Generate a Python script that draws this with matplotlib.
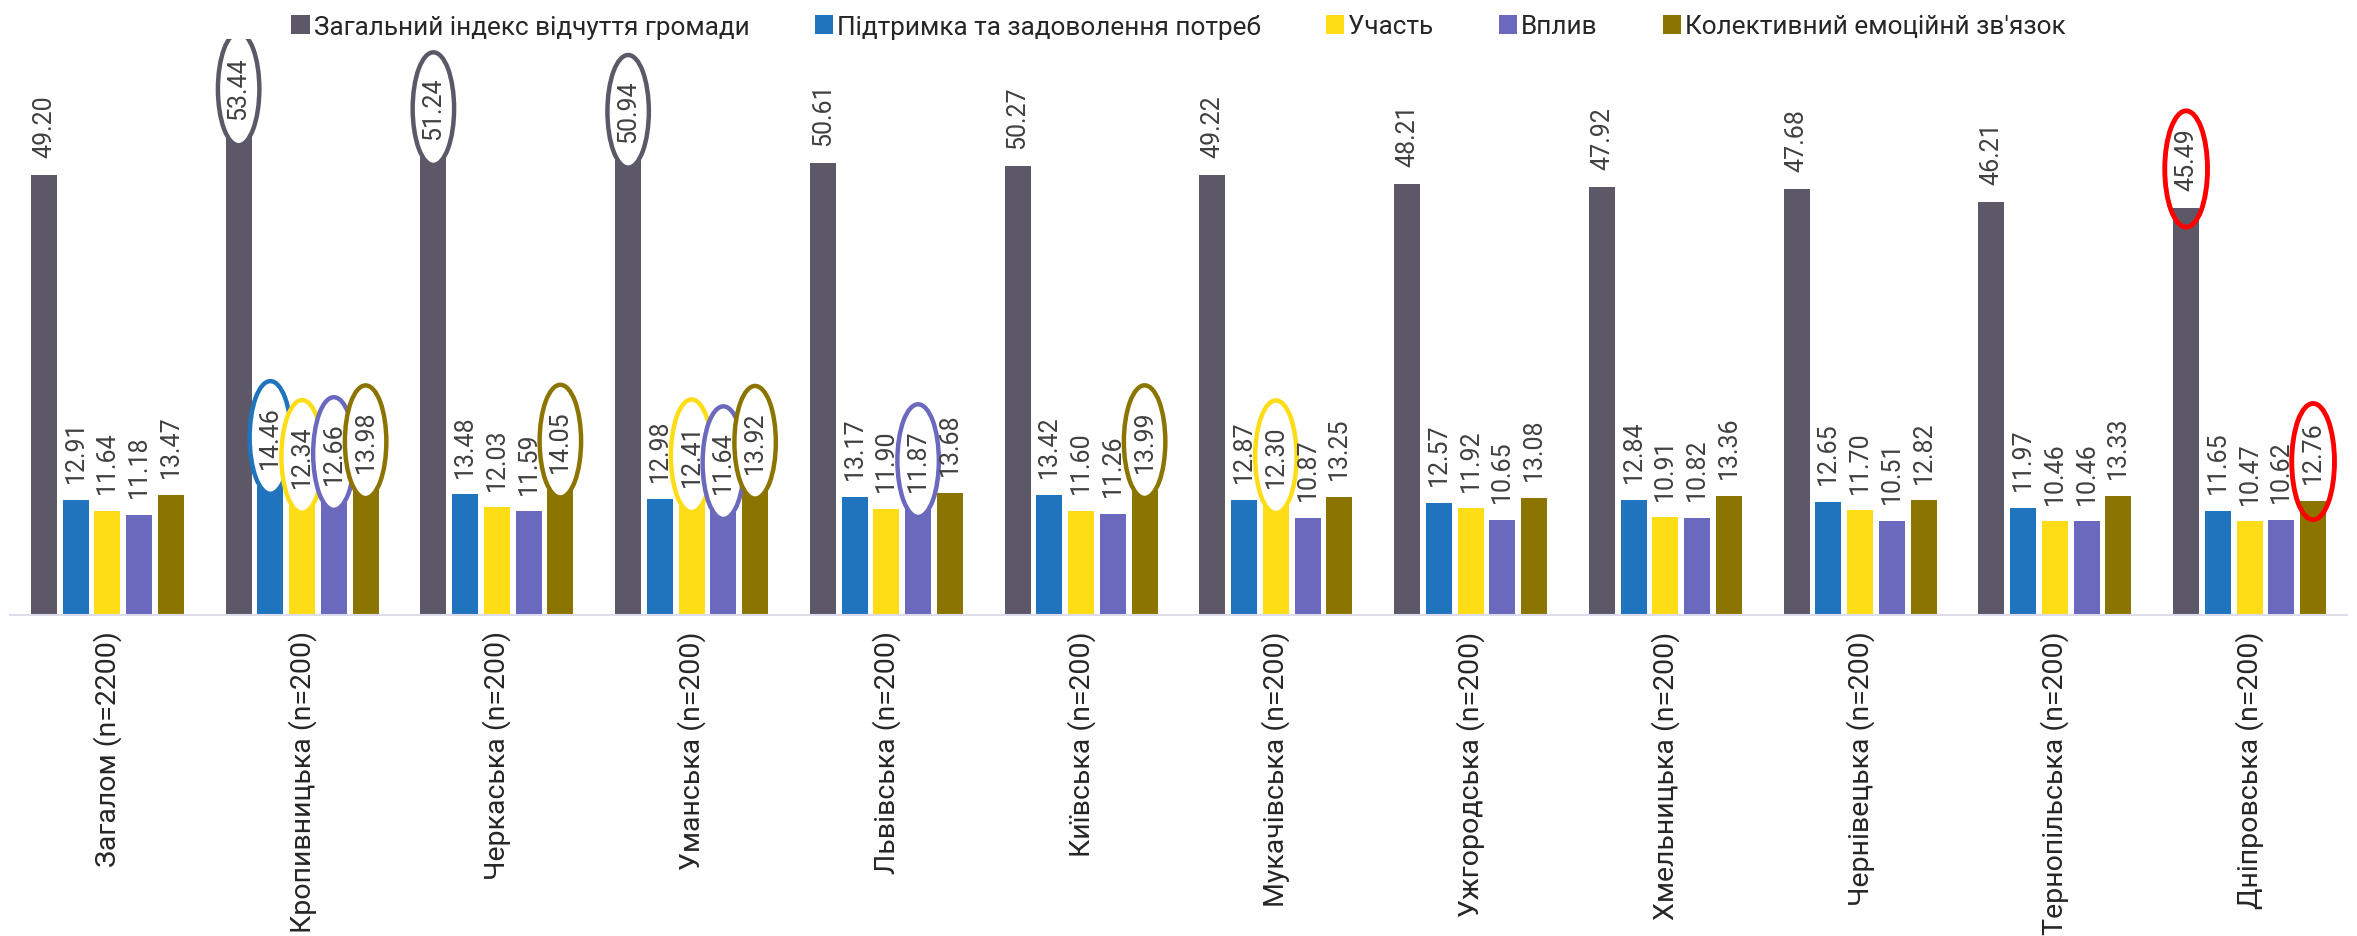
import matplotlib
matplotlib.use("Agg")
import matplotlib.pyplot as plt
from matplotlib.patches import Ellipse, Patch
import numpy as np

plt.rcParams['font.family'] = ['Roboto', 'DejaVu Sans']

categories = ["Загалом (n=2200)", "Кропивницька (n=200)", "Черкаська (n=200)",
              "Уманська (n=200)", "Львівська (n=200)", "Київська (n=200)",
              "Мукачівська (n=200)", "Ужгородська (n=200)", "Хмельницька (n=200)",
              "Чернівецька (n=200)", "Тернопільська (n=200)", "Дніпровська (n=200)"]

series_names = ["Загальний індекс відчуття громади", "Підтримка та задоволення потреб",
                "Участь", "Вплив", "Колективний емоційнй зв'язок"]

general_index = [49.20, 53.44, 51.24, 50.94, 50.61, 50.27, 49.22, 48.21, 47.92, 47.68, 46.21, 45.49]
support = [12.91, 14.46, 13.48, 12.98, 13.17, 13.42, 12.87, 12.57, 12.84, 12.65, 11.97, 11.65]
participation = [11.64, 12.34, 12.03, 12.41, 11.90, 11.60, 12.30, 11.92, 10.91, 11.70, 10.46, 10.47]
influence = [11.18, 12.66, 11.59, 11.64, 11.87, 11.26, 10.87, 10.65, 10.82, 10.51, 10.46, 10.62]
emotional = [13.47, 13.98, 14.05, 13.92, 13.68, 13.99, 13.25, 13.08, 13.36, 12.82, 13.33, 12.76]

series = [general_index, support, participation, influence, emotional]
colors = ["#5c5868", "#1f74bd", "#fedd17", "#6b69bd", "#8b7500"]

# highlighted labels: (category index, series index, outline colour or None = series colour)
highlights = [(1, 0, None), (2, 0, None), (3, 0, None), (11, 0, "#ff0000"),
              (1, 1, None), (1, 2, None), (1, 3, None), (1, 4, None),
              (2, 4, None),
              (3, 2, None), (3, 3, None), (3, 4, None),
              (4, 3, None), (5, 4, None), (6, 2, None),
              (11, 4, "#ff0000")]

W, H, DPI = 2357, 937, 100
fig = plt.figure(figsize=(W / DPI, H / DPI), dpi=DPI)
ax = fig.add_axes([10 / W, 1 - 616 / H, (2347 - 10) / W, (616 - 40) / H])

n = len(series)
step = 0.163
bw = 0.133
x = np.arange(len(categories))
label_off = 2.0
for i, (vals, col) in enumerate(zip(series, colors)):
    xs = x + (i - (n - 1) / 2) * step
    ax.bar(xs, vals, width=bw, color=col, zorder=2, edgecolor='none')
    for xi, v in zip(xs, vals):
        ax.text(xi, v + label_off, f"{v:.2f}", rotation=90, ha='center', va='bottom',
                fontsize=18, color='#404040', zorder=5)

for ci, si, oc in highlights:
    v = series[si][ci]
    xi = x[ci] + (si - (n - 1) / 2) * step
    if oc is None:
        e = Ellipse((xi, v + 5.4), width=bw * 1.6, height=12.6, facecolor='white',
                    edgecolor=colors[si], lw=3.2, zorder=4)
    else:
        e = Ellipse((xi, v + 4.4), width=bw * 1.65, height=13.0, facecolor='none',
                    edgecolor=oc, lw=3.5, zorder=6)
    ax.add_patch(e)

ax.set_xlim(-0.5, len(categories) - 0.5)
ax.set_ylim(0, (616 - 40) / 8.94)
ax.set_xticks(x)
ax.set_xticklabels(categories, rotation=90, fontsize=20.5, color='#262626')
ax.tick_params(axis='x', length=0, pad=11)
ax.set_yticks([])
for s in ['top', 'right', 'left']:
    ax.spines[s].set_visible(False)
ax.spines['bottom'].set_color('#dcdcec')
ax.spines['bottom'].set_linewidth(1.5)

handles = [Patch(facecolor=c, edgecolor='none') for c in colors]
fig.legend(handles, series_names, loc='center', bbox_to_anchor=(0.5, 1 - 27 / H),
           ncol=5, frameon=False, fontsize=18.8, handlelength=0.7, handleheight=0.7,
           handletextpad=0.15, columnspacing=2.5, labelcolor='#262626')

fig.savefig("out.png", dpi=DPI, facecolor='white')
